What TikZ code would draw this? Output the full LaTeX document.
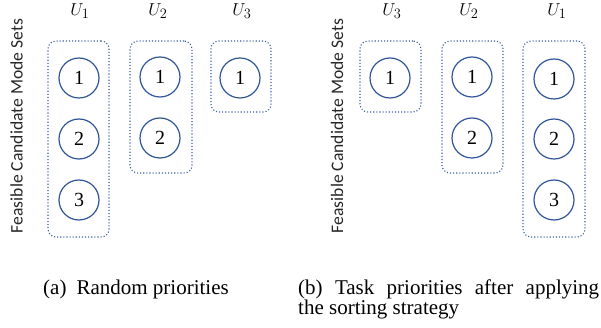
\documentclass[tikz,border=0pt]{standalone}
\usepackage{fontspec}
\setmainfont{Liberation Serif}
\newfontfamily\serifrm{Liberation Serif}
\newfontfamily\sidefont{Carlito}
\usetikzlibrary{positioning}
\definecolor{circblue}{RGB}{47,85,151}
\definecolor{boxblue}{RGB}{56,92,168}
\tikzset{
  x=1pt, y=-1pt,
  mode/.style={circle, draw=circblue, line width=1.2pt, minimum size=40pt, inner sep=0pt,
    font=\serifrm\fontsize{20}{20}\selectfont},
  setbox/.style={draw=boxblue, dotted, line width=1.1pt, rounded corners=8pt, inner sep=0pt},
  ulabel/.style={font=\fontsize{19}{19}\selectfont},
  sidelabel/.style={rotate=90, text=black!85, font=\sidefont\fontsize{17.6}{18}\selectfont, inner sep=0pt},
  captext/.style={font=\serifrm\fontsize{21}{20}\selectfont, inner sep=0pt},
}
\begin{document}
\begin{tikzpicture}
\useasboundingbox (0,0) rectangle (601,328);
% ---------- left panel ----------
\node[sidelabel] (sa) at (16.5,126) {Feasible Candidate Mode Sets};
\node[setbox, minimum width=61pt, minimum height=196pt] (la) at (78.5,139) {};
\node[setbox, minimum width=62pt, minimum height=132pt] (lb) at (161,107) {};
\node[setbox, minimum width=60pt, minimum height=71pt] (lc) at (241,76.5) {};
\node[ulabel] (lua) at (80,11) {$U_1$};
\node[ulabel] (lub) at (158,11) {$U_2$};
\node[ulabel] (luc) at (242,11) {$U_3$};
\node[mode] (la1) at (79,78) {1};
\node[mode] (la2) at (79,139) {2};
\node[mode] (la3) at (79,200) {3};
\node[mode] (lb1) at (160,77) {1};
\node[mode] (lb2) at (160,138) {2};
\node[mode] (lc1) at (240,78) {1};
% ---------- right panel ----------
\node[sidelabel] (sb) at (337,126) {Feasible Candidate Mode Sets};
\node[setbox, minimum width=61pt, minimum height=71pt] (rc) at (390.5,76.5) {};
\node[setbox, minimum width=61pt, minimum height=132pt] (rb) at (472.5,107) {};
\node[setbox, minimum width=62pt, minimum height=196pt] (ra) at (554,139) {};
\node[ulabel] (ruc) at (392,11) {$U_3$};
\node[ulabel] (rub) at (469,11) {$U_2$};
\node[ulabel] (rua) at (557,11) {$U_1$};
\node[mode] (rc1) at (390,78) {1};
\node[mode] (rb1) at (472,77) {1};
\node[mode] (rb2) at (472,138) {2};
\node[mode] (ra1) at (554,79) {1};
\node[mode] (ra2) at (554,139) {2};
\node[mode] (ra3) at (554,200) {3};
% ---------- captions ----------
\node[captext, anchor=base west] (capa) at (43,294) {(a)\hskip 10pt Random priorities};
\node[captext, anchor=base west, text width=301pt, align=justify] (capb) at (298,294)
  {(b) Task priorities after applying\linebreak the sorting strategy};
\end{tikzpicture}
\end{document}
